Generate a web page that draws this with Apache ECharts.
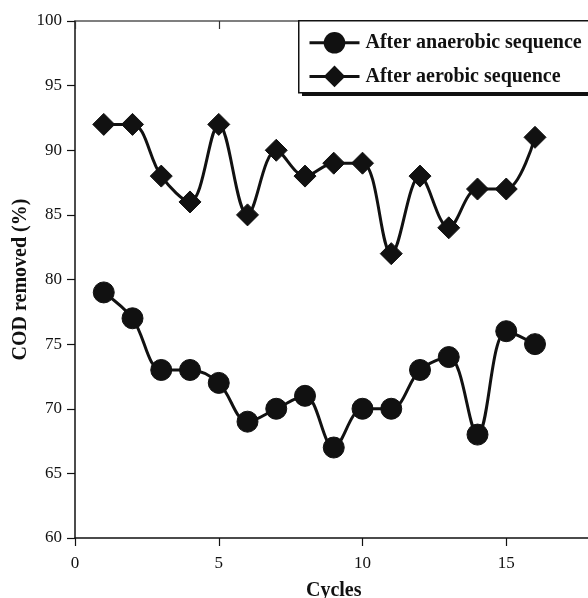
<!DOCTYPE html>
<html>
<head>
<meta charset="utf-8">
<script src="https://cdn.jsdelivr.net/npm/echarts@6/dist/echarts.min.js"></script>
<style>
  html, body { margin: 0; padding: 0; background: #fff; }
  #chart { width: 588px; height: 598px; }
</style>
</head>
<body>
<div id="chart"></div>
<script>
// COD removal per cycle for the two sequences
const cycles = [1, 2, 3, 4, 5, 6, 7, 8, 9, 10, 11, 12, 13, 14, 15, 16];
const anaerobic = [79, 77, 73, 73, 72, 69, 70, 71, 67, 70, 70, 73, 74, 68, 76, 75];
const aerobic = [92, 92, 88, 86, 92, 85, 90, 88, 89, 89, 82, 88, 84, 87, 87, 91];
const xTicks = [0, 5, 10, 15];
const yTicks = [60, 65, 70, 75, 80, 85, 90, 95, 100];

const serif = '"Liberation Serif", "DejaVu Serif", serif';
const ink = '#111111';

const pairs = (xs, ys) => xs.map((x, i) => [x, ys[i]]);

const chart = echarts.init(document.getElementById('chart'), null, { renderer: 'canvas' });

chart.setOption({
  backgroundColor: '#ffffff',
  animation: false,
  grid: { left: 75, top: 21, width: 517.5, height: 517, containLabel: false, outerBoundsMode: 'none' },
  // framed legend panel with a solid drop shadow
  graphic: [
    { type: 'rect', left: 302, top: 24, z: 10,
      shape: { width: 300, height: 72 }, style: { fill: ink } },
    { type: 'rect', left: 298, top: 20, z: 11,
      shape: { width: 300, height: 72 },
      style: { fill: '#ffffff', stroke: ink, lineWidth: 1.5 } }
  ],
  legend: {
    left: 308,
    top: 32,
    z: 20,
    orient: 'vertical',
    itemWidth: 50,
    itemHeight: 27,
    itemGap: 12,
    padding: 0,
    lineStyle: { width: 3 },
    textStyle: { fontFamily: serif, fontWeight: 'bold', fontSize: 20, color: ink, padding: [0, 0, 0, 1] },
    data: ['After anaerobic sequence', 'After aerobic sequence']
  },
  xAxis: [
    {
      type: 'value',
      min: 0,
      max: 18,
      interval: 5,
      name: 'Cycles',
      nameLocation: 'middle',
      nameGap: 43,
      nameTextStyle: { fontFamily: serif, fontWeight: 'bold', fontSize: 20, color: ink },
      axisLine: { onZero: false, lineStyle: { color: ink, width: 1.5 } },
      axisTick: { inside: false, length: 8, lineStyle: { color: ink, width: 1.2 } },
      axisLabel: {
        margin: 17, fontFamily: serif, fontSize: 17, color: ink,
        showMaxLabel: false,
        formatter: v => (xTicks.includes(v) ? String(v) : '')
      },
      splitLine: { show: false }
    },
    {
      type: 'value',
      position: 'top',
      min: 0,
      max: 18,
      interval: 5,
      axisLine: { onZero: false, lineStyle: { color: '#555555', width: 1.5 } },
      axisTick: { inside: true, length: 8, lineStyle: { color: '#333333', width: 1.2 } },
      axisLabel: { show: false },
      splitLine: { show: false }
    }
  ],
  yAxis: {
    type: 'value',
    min: yTicks[0],
    max: yTicks[yTicks.length - 1],
    interval: 5,
    name: 'COD removed (%)',
    nameLocation: 'middle',
    nameGap: 44,
    nameMoveOverlap: false,
    nameTextStyle: { fontFamily: serif, fontWeight: 'bold', fontSize: 20, color: ink },
    axisLine: { onZero: false, lineStyle: { color: ink, width: 1.5 } },
    axisTick: { inside: false, length: 8, lineStyle: { color: ink, width: 1.2 } },
    axisLabel: { margin: 13, fontFamily: serif, fontSize: 17, color: ink },
    splitLine: { show: false }
  },
  series: [
    {
      name: 'After anaerobic sequence',
      type: 'line',
      data: pairs(cycles, anaerobic),
      smooth: 0.35,
      symbol: 'circle',
      symbolSize: 21,
      lineStyle: { color: ink, width: 3 },
      itemStyle: { color: ink, borderColor: ink },
      z: 3
    },
    {
      name: 'After aerobic sequence',
      type: 'line',
      data: pairs(cycles, aerobic),
      smooth: 0.35,
      symbol: 'diamond',
      symbolSize: 22,
      lineStyle: { color: ink, width: 3 },
      itemStyle: { color: ink, borderColor: ink },
      z: 3
    }
  ]
});
</script>
</body>
</html>
